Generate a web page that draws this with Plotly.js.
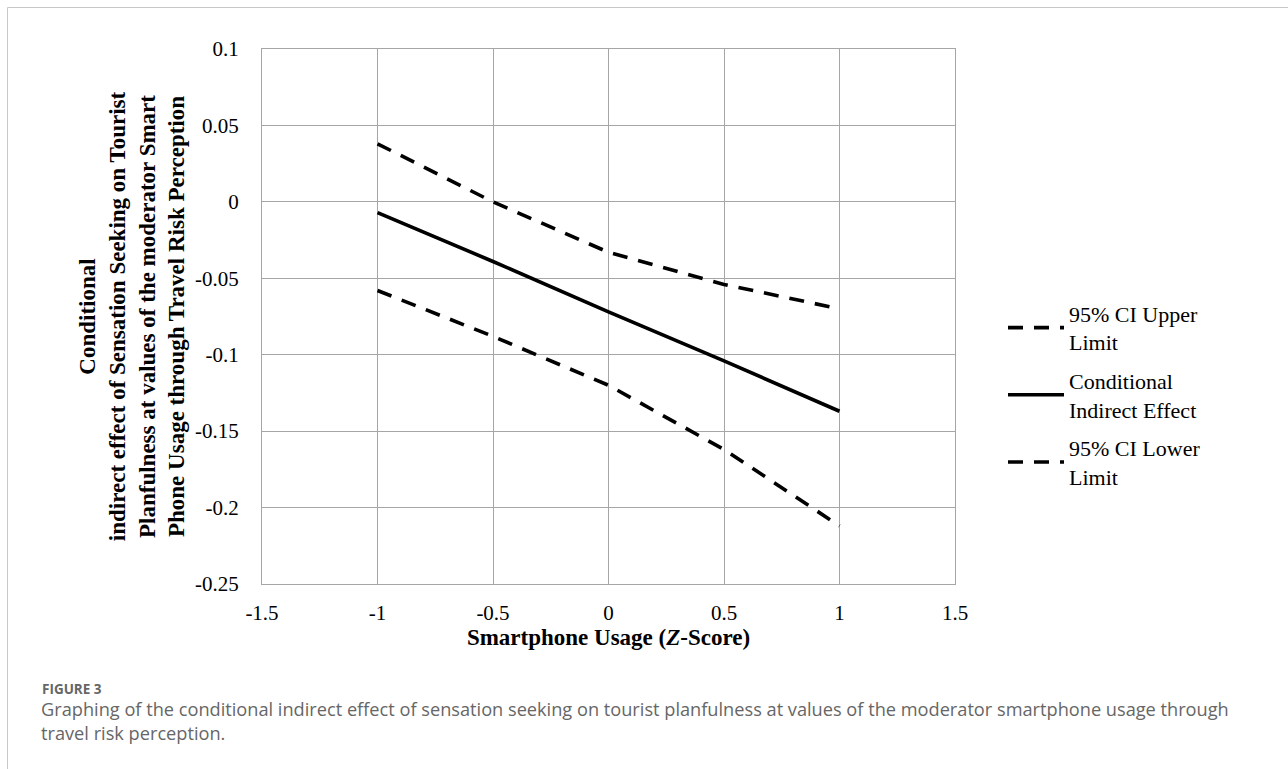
<!DOCTYPE html>
<html>
<head>
<meta charset="utf-8">
<script src="https://cdn.plot.ly/plotly-3.0.1.min.js"></script>
<style>
html,body{margin:0;padding:0;background:#fff;}
#chart{width:1288px;height:769px;}
</style>
</head>
<body>
<div id="chart"></div>
<script>
// Data
const xValues = [-1, -0.5, 0, 0.5, 1];
const upperLimit = [0.038, 0.0, -0.033, -0.054, -0.070];
const indirectEffect = [-0.007, -0.039, -0.072, -0.104, -0.137];
const lowerLimit = [-0.058, -0.088, -0.120, -0.162, -0.212];
const seriesNames = ["95% CI Upper<br>Limit", "Conditional<br>Indirect Effect", "95% CI Lower<br>Limit"];
const xTicks = [-1.5, -1, -0.5, 0, 0.5, 1, 1.5];
const xTickText = ["-1.5", "-1", "-0.5", "0", "0.5", "1", "1.5"];
const yTicks = [0.1, 0.05, 0, -0.05, -0.1, -0.15, -0.2, -0.25];
const yTickText = ["0.1", "0.05", "0", "-0.05", "-0.1", "-0.15", "-0.2", "-0.25"];

const serif = "Liberation Serif, Times New Roman, serif";
const gridCol = "#a6a6a6";
const dashPat = "15px,11px";

const traces = [
  {x: xValues, y: upperLimit, name: seriesNames[0], legendgroup: "g1", mode: "lines",
   line: {color: "#000", width: 3.6, dash: dashPat}},
  {x: xValues, y: indirectEffect, name: seriesNames[1], legendgroup: "g2", mode: "lines",
   line: {color: "#000", width: 3.6}},
  {x: xValues, y: lowerLimit, name: seriesNames[2], legendgroup: "g3", mode: "lines",
   line: {color: "#000", width: 3.6, dash: dashPat}}
];

const L = 262, R = 955, T = 49, B = 584;
const pw = R - L, ph = B - T;
const px = v => (v - L) / pw;
const py = v => (B - v) / ph;

const layout = {
  width: 1288, height: 769,
  margin: {l: L, r: 1288 - R, t: T, b: 769 - B},
  paper_bgcolor: "#fff", plot_bgcolor: "#fff",
  showlegend: true,
  legend: {
    x: px(1003), y: py(395), xanchor: "left", yanchor: "middle",
    font: {family: serif, size: 22, color: "#000"},
    tracegroupgap: 7, itemwidth: 56, traceorder: "grouped",
    bgcolor: "rgba(0,0,0,0)"
  },
  xaxis: {
    range: [-1.5, 1.5], tickvals: xTicks, ticktext: xTickText,
    showgrid: true, gridcolor: gridCol, gridwidth: 1,
    zeroline: false, showline: true, linecolor: gridCol, linewidth: 1, mirror: true,
    ticks: "", ticklen: 0, ticklabelstandoff: 10,
    tickfont: {family: serif, size: 21, color: "#000"},
    title: {text: "<b>Smartphone Usage (<i>Z</i>-Score)</b>", font: {family: serif, size: 23, color: "#000"}, standoff: 2}
  },
  yaxis: {
    range: [-0.25, 0.1], tickvals: yTicks, ticktext: yTickText,
    showgrid: true, gridcolor: gridCol, gridwidth: 1,
    zeroline: false, showline: true, linecolor: gridCol, linewidth: 1, mirror: true,
    ticks: "", ticklen: 0, ticklabelstandoff: 18,
    tickfont: {family: serif, size: 21, color: "#000"},
    title: {
      text: "<b>Conditional<br>indirect effect of Sensation Seeking on Tourist<br>Planfulness at values of the moderator Smart<br>Phone Usage through Travel Risk Perception</b>",
      font: {family: serif, size: 23, color: "#000"}, standoff: 3
    }
  },
  shapes: [
    {type: "rect", xref: "paper", yref: "paper",
     x0: px(7.5), x1: px(1300), y0: py(7.5), y1: py(800),
     line: {color: "#c8c8c8", width: 1}, fillcolor: "rgba(0,0,0,0)", layer: "below"}
  ],
  annotations: [
    {xref: "paper", yref: "paper", x: px(40), y: py(688.5), xanchor: "left", yanchor: "middle",
     showarrow: false, text: "<b>FIGURE 3</b>",
     font: {family: "Open Sans, sans-serif", size: 13.5, color: "#666"}},
    {xref: "paper", yref: "paper", x: px(39), y: py(721), xanchor: "left", yanchor: "middle",
     showarrow: false, align: "left",
     text: "Graphing of the conditional indirect effect of sensation seeking on tourist planfulness at values of the moderator smartphone usage through<br>travel risk perception.",
     font: {family: "Open Sans, sans-serif", size: 18.2, color: "#666"}}
  ]
};

Plotly.newPlot("chart", traces, layout, {displayModeBar: false, staticPlot: true});
</script>
</body>
</html>
